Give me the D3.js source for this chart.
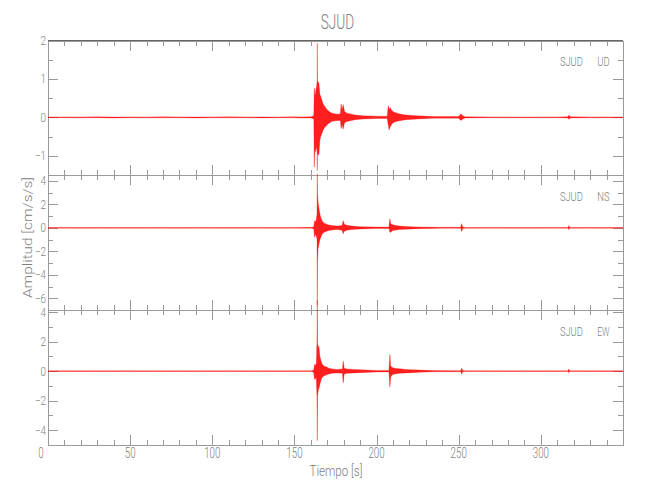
<!DOCTYPE html>
<html><head><meta charset="utf-8">
<script src="https://cdn.jsdelivr.net/npm/d3@7/dist/d3.min.js"></script>
<style>body{margin:0;background:#fff}</style>
</head><body>
<svg id="c" width="650" height="500"></svg>
<script>
// ---------------- data ----------------
const chartTitle = "SJUD";
const station = "SJUD";
const components = ["UD", "NS", "EW"];
const xLabel = "Tiempo [s]";
const yLabel = "Amplitud [cm/s/s]";
const xDomain = [0, 350];
const xMajorTicks = [0, 50, 100, 150, 200, 250, 300];
const xMinorStep = 10;

const yDomainUD = [-1.5, 2];
const yDomainNS = [-7, 4.5];
const yDomainEW = [-5, 4.14];
const yTicksUD = [-1, 0, 1, 2];
const yTicksNS = [-6, -4, -2, 0, 2, 4];
const yTicksEW = [-4, -2, 0, 2, 4];
const yMinorUD = [-1.5, -0.5, 0.5, 1.5];
const yMinorNS = [-7, -5, -3, -1, 1, 3];
const yMinorEW = [-5, -3, -1, 1, 3];

// envelope of each trace: [time s, max, min]
const traceUD = [
[0,0.01,-0.01],[10,0.012,-0.01],[20,0.01,-0.012],[30,0.014,-0.01],[40,0.01,-0.014],[50,0.012,-0.01],
[60,0.01,-0.012],[70,0.014,-0.012],[80,0.012,-0.01],[90,0.01,-0.014],[100,0.012,-0.01],[110,0.014,-0.012],
[120,0.01,-0.01],[130,0.012,-0.014],[140,0.01,-0.01],[150,0.014,-0.012],[155,0.012,-0.014],[160,0.015,-0.015],
[161,0.03,-0.03],[161.8,0.05,-0.05],[162.05,0.76,-1.29],[162.15,0.76,-1.29],[162.5,0.55,-0.80],[163,0.70,-0.90],
[163.5,0.80,-0.75],[163.8,0.95,-0.9],[163.85,1.93,-1.38],[163.95,1.93,-1.38],[164.05,0.95,-0.95],[164.9,0.89,-0.98],
[165.5,0.60,-0.60],[166,0.55,-0.50],[166.7,0.45,-0.42],[167.5,0.35,-0.33],[168.5,0.28,-0.26],[169.5,0.22,-0.22],
[170.5,0.18,-0.17],[171.5,0.14,-0.14],[173,0.11,-0.10],[175,0.09,-0.09],[177,0.08,-0.08],[178,0.10,-0.09],
[178.35,0.35,-0.29],[178.45,0.35,-0.29],[179,0.20,-0.18],[179.65,0.33,-0.30],[179.75,0.33,-0.30],[180.5,0.15,-0.14],
[182,0.11,-0.11],[184,0.09,-0.09],[187,0.06,-0.06],[192,0.04,-0.04],[200,0.03,-0.03],[206.5,0.03,-0.03],
[207.05,0.30,-0.20],[207.15,0.30,-0.20],[207.6,0.22,-0.33],[208.3,0.25,-0.25],[209.2,0.18,-0.18],[210.5,0.14,-0.13],
[212.5,0.11,-0.10],[215,0.08,-0.08],[218,0.06,-0.06],[225,0.04,-0.04],[235,0.02,-0.02],[250,0.02,-0.02],
[250.8,0.07,-0.06],[251.5,0.09,-0.08],[252.5,0.04,-0.04],[254,0.015,-0.015],[270,0.012,-0.01],[290,0.01,-0.012],
[310,0.012,-0.01],[316.5,0.015,-0.015],[317,0.06,-0.05],[318,0.015,-0.015],[330,0.01,-0.012],[340,0.012,-0.01],[350,0.01,-0.01]
];
const traceNS = [
[0,0.03,-0.03],[10,0.035,-0.03],[20,0.03,-0.035],[30,0.035,-0.03],[40,0.03,-0.03],[50,0.035,-0.035],
[60,0.03,-0.03],[70,0.035,-0.03],[80,0.03,-0.035],[90,0.035,-0.03],[100,0.03,-0.03],[110,0.035,-0.035],
[120,0.03,-0.03],[130,0.035,-0.03],[140,0.03,-0.035],[150,0.035,-0.03],[160,0.04,-0.04],
[161,0.05,-0.05],[161.8,0.12,-0.10],[162.2,0.6,-0.8],[162.7,0.5,-0.6],[163.3,0.7,-0.7],[163.75,1.2,-1.0],
[163.85,4.6,-6.6],[163.95,4.6,-6.6],[164.1,2.9,-2.8],[164.4,2.2,-1.8],[164.8,1.8,-1.5],[165.2,1.45,-1.2],
[165.8,1.0,-0.9],[166.5,0.7,-0.65],[167.3,0.5,-0.45],[168.3,0.4,-0.38],[169.5,0.3,-0.3],[171,0.25,-0.22],
[173,0.2,-0.18],[176,0.15,-0.15],[179,0.2,-0.2],[179.65,0.6,-0.5],[179.75,0.6,-0.5],[180.4,0.3,-0.3],
[182,0.22,-0.2],[185,0.15,-0.15],[190,0.1,-0.1],[200,0.06,-0.06],[207.5,0.06,-0.06],[208.05,0.75,-0.36],
[208.15,0.75,-0.36],[208.6,0.35,-0.4],[209.5,0.28,-0.25],[211,0.22,-0.2],[214,0.15,-0.15],[218,0.12,-0.12],
[225,0.07,-0.07],[240,0.04,-0.04],[251.2,0.04,-0.04],[251.75,0.35,-0.3],[251.85,0.35,-0.3],[252.5,0.06,-0.06],
[254,0.035,-0.035],[270,0.035,-0.03],[290,0.03,-0.035],[310,0.035,-0.03],[316.5,0.035,-0.035],[317,0.2,-0.15],
[317.6,0.035,-0.035],[330,0.035,-0.03],[340,0.03,-0.035],[350,0.03,-0.03]
];
const traceEW = [
[0,0.025,-0.025],[10,0.03,-0.025],[20,0.025,-0.03],[30,0.03,-0.025],[40,0.025,-0.025],[50,0.03,-0.03],
[60,0.025,-0.025],[70,0.03,-0.025],[80,0.025,-0.03],[90,0.03,-0.025],[100,0.025,-0.025],[110,0.03,-0.03],
[120,0.025,-0.025],[130,0.03,-0.025],[140,0.025,-0.03],[150,0.03,-0.025],[160,0.03,-0.03],
[161,0.04,-0.04],[161.8,0.1,-0.1],[162.2,0.45,-0.56],[162.7,0.4,-0.5],[163.3,0.5,-0.5],[163.7,1.9,-1.7],
[163.85,4.8,-4.7],[163.95,4.8,-4.7],[164.1,1.9,-1.7],[164.5,1.6,-1.3],[164.9,1.7,-1.2],[165.5,1.0,-0.9],
[166.2,0.7,-0.6],[167,0.45,-0.4],[168,0.35,-0.32],[169.5,0.28,-0.25],[171,0.2,-0.2],[173,0.15,-0.14],
[176,0.12,-0.12],[179.2,0.15,-0.15],[179.65,0.67,-0.78],[179.75,0.67,-0.78],[180.3,0.2,-0.2],[182,0.15,-0.15],
[186,0.12,-0.12],[190,0.1,-0.1],[200,0.05,-0.05],[207.5,0.05,-0.05],[208.05,1.12,-1.05],[208.15,1.12,-1.05],
[208.6,0.35,-0.4],[209.5,0.25,-0.25],[211,0.2,-0.2],[214,0.16,-0.15],[218,0.12,-0.12],[222,0.1,-0.1],
[226,0.07,-0.07],[235,0.04,-0.04],[251.2,0.035,-0.035],[251.75,0.2,-0.2],[251.85,0.2,-0.2],[252.5,0.04,-0.04],
[254,0.03,-0.03],[270,0.03,-0.025],[290,0.025,-0.03],[310,0.03,-0.025],[316.5,0.03,-0.03],[317,0.15,-0.1],
[317.6,0.03,-0.03],[330,0.03,-0.025],[340,0.025,-0.03],[350,0.025,-0.025]
];

// ---------------- drawing ----------------
const L = 48, R = 623;
const panelTops = [40.5, 175, 310];
const panelBottoms = [175, 310, 445];
const axisColor = "#9a9a9a";
const textColor = "#808080";
const FONT = "Roboto, 'Liberation Sans', Arial, sans-serif";

const svg = d3.select("#c");
const x = d3.scaleLinear().domain(xDomain).range([L, R]);
const xMinor = d3.range(xDomain[0], xDomain[1] + 0.001, xMinorStep);

function label(parent, str, px, py, size, perChar, anchor) {
  return parent.append("text")
    .attr("x", px).attr("y", py)
    .attr("font-family", FONT).attr("font-size", size)
    .attr("font-weight", 300)
    .attr("fill", textColor)
    .attr("text-anchor", anchor || "middle")
    .attr("textLength", perChar * str.length)
    .attr("lengthAdjust", "spacingAndGlyphs")
    .text(str);
}
function fmt(v) { return v < 0 ? "\u2212" + Math.abs(v) : String(v); }

function styleAxis(g) {
  g.selectAll("path.domain").attr("stroke", axisColor).attr("stroke-width", 1);
  g.selectAll(".tick line").attr("stroke", axisColor).attr("stroke-width", 1);
  g.selectAll(".tick text").remove();
  g.attr("shape-rendering", "crispEdges");
}

const panels = [
  {comp: components[0], data: traceUD, dom: yDomainUD, major: yTicksUD, minor: yMinorUD},
  {comp: components[1], data: traceNS, dom: yDomainNS, major: yTicksNS, minor: yMinorNS},
  {comp: components[2], data: traceEW, dom: yDomainEW, major: yTicksEW, minor: yMinorEW}
];

const axesLayer = svg.append("g");
const traceLayer = svg.append("g");
const textLayer = svg.append("g");

panels.forEach((p, i) => {
  const top = panelTops[i], bot = panelBottoms[i];
  const y = d3.scaleLinear().domain(p.dom).range([bot, top]);
  const g = axesLayer.append("g");

  g.append("g").attr("transform", `translate(${L},0)`)
    .call(d3.axisRight(y).tickValues(p.major).tickSize(10).tickSizeOuter(0)).call(styleAxis);
  g.append("g").attr("transform", `translate(${L},0)`)
    .call(d3.axisRight(y).tickValues(p.minor).tickSize(5).tickSizeOuter(0)).call(styleAxis);
  g.append("g").attr("transform", `translate(${R},0)`)
    .call(d3.axisLeft(y).tickValues(p.major).tickSize(10).tickSizeOuter(0)).call(styleAxis);
  g.append("g").attr("transform", `translate(${R},0)`)
    .call(d3.axisLeft(y).tickValues(p.minor).tickSize(5).tickSizeOuter(0)).call(styleAxis);
  g.append("g").attr("transform", `translate(0,${top})`)
    .call(d3.axisBottom(x).tickValues(xMajorTicks).tickSize(10).tickSizeOuter(0)).call(styleAxis);
  g.append("g").attr("transform", `translate(0,${top})`)
    .call(d3.axisBottom(x).tickValues(xMinor).tickSize(5).tickSizeOuter(0)).call(styleAxis);
  g.append("g").attr("transform", `translate(0,${bot})`)
    .call(d3.axisTop(x).tickValues(xMajorTicks).tickSize(10).tickSizeOuter(0)).call(styleAxis);
  g.append("g").attr("transform", `translate(0,${bot})`)
    .call(d3.axisTop(x).tickValues(xMinor).tickSize(5).tickSizeOuter(0)).call(styleAxis);

  p.major.forEach(v => {
    label(textLayer, fmt(v), L - 2, y(v) + 4.5, 13, 5.5, "end");
  });

  const area = d3.area()
    .x(d => x(d[0]))
    .y0(d => y(d[2]))
    .y1(d => y(d[1]));
  traceLayer.append("path")
    .datum(p.data)
    .attr("d", area)
    .attr("fill", "#ff0000")
    .attr("fill-opacity", 0.88)
    .attr("stroke", "#ff0000")
    .attr("stroke-width", 0.45)
    .attr("stroke-opacity", 0.6)
    .attr("stroke-linejoin", "round");

  label(textLayer, station, 560, top + 25.5, 13, 5.7, "start");
  label(textLayer, p.comp, 597.3, top + 25.5, 13, 6.1, "start");
});

axesLayer.append("line")
  .attr("x1", L).attr("x2", R).attr("y1", panelTops[0]).attr("y2", panelTops[0])
  .attr("stroke", "#666").attr("stroke-width", 1).attr("shape-rendering", "crispEdges");

xMajorTicks.forEach(v => {
  const shift = v === 0 ? -7 : 0;
  label(textLayer, String(v), x(v) + shift, 458, 14, 5.4, "middle");
});

label(textLayer, chartTitle, 337.5, 28.5, 20, 8.4, "middle");
label(textLayer, xLabel, 336, 476, 14, 5.3, "middle");
textLayer.append("text")
  .attr("transform", "translate(31.5,237.5) rotate(-90)")
  .attr("font-family", FONT).attr("font-size", 13).attr("font-weight", 300)
  .attr("fill", textColor).attr("text-anchor", "middle")
  .attr("textLength", 121).attr("lengthAdjust", "spacingAndGlyphs")
  .text(yLabel);
</script>
</body></html>
